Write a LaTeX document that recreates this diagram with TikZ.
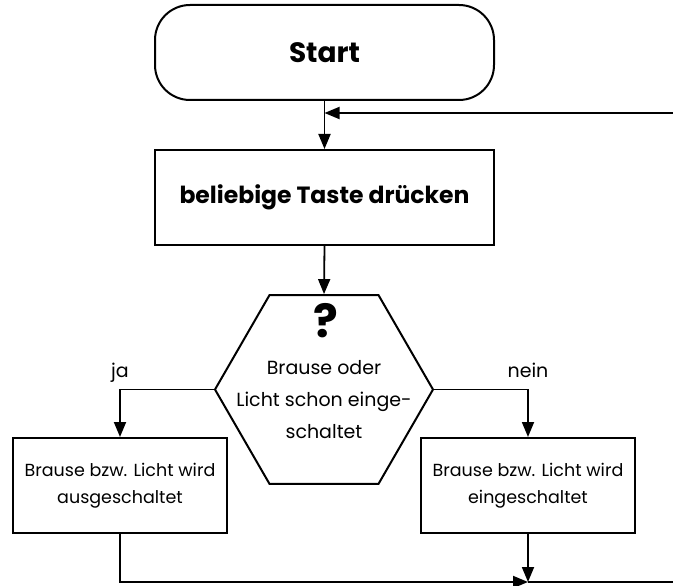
\documentclass[tikz,border=0pt]{standalone}
\usepackage{fontspec}
\setmainfont{Poppins}
\usetikzlibrary{arrows.meta,positioning,shapes.geometric}

\begin{document}
\begin{tikzpicture}[x=1pt,y=-1pt,>={Triangle[length=15pt,width=12pt]},line width=1.8pt,
 kasten/.style={draw,line width=2pt,inner sep=0pt,minimum width=339pt,minimum height=95pt},
 klein/.style={draw,line width=2pt,inner sep=0pt,align=center,minimum width=214pt,minimum height=95pt,
   font=\fontsize{17.5}{27}\selectfont},
 sechseck/.style={draw,line width=2pt,regular polygon,regular polygon sides=6,minimum size=218pt,inner sep=0pt},
 zweig/.style={above=5pt,font=\fontsize{19}{21}\selectfont,text height=.75em,text depth=.25em}]
 \useasboundingbox (0,0) rectangle (673,586);
 % oben
 \node[kasten,rounded corners=35pt,font=\fontsize{28}{32}\bfseries] (start) at (324.5,52.5) {Start};
 \node[kasten,font=\fontsize{23.5}{27}\bfseries] (taste) at (324.5,197.5) {beliebige Taste drücken};
 \coordinate (rueck) at (673,113);
 \draw[->] (start.south) -- (taste.north);
 \draw[->] (rueck) -- (rueck -| start.south);
 % Abfrage
 \node[sechseck] (frage) at (324,389.5) {};
 \node[font=\fontsize{46}{46}\bfseries] (fragezeichen) at (326,321) {?};
 \node[align=center,font=\fontsize{19}{32}\selectfont] (fragetext) at (324,400) {Brause oder\\Licht schon einge-\\schaltet};
 \draw[->] (taste.south) -- (frage.north);
 % Zweige
 \node[klein] (aus) at (120,485.5) {Brause bzw. Licht wird\\ausgeschaltet};
 \node[klein] (ein) at (528,485.5) {Brause bzw. Licht wird\\eingeschaltet};
 \draw[->] (frage.west) -| node[pos=.5,zweig] (ja) {ja} (aus.north);
 \draw[->] (frage.east) -| node[pos=.5,zweig] (nein) {nein} (ein.north);
 % unten
 \coordinate (treff) at (528,582);
 \coordinate (ende) at (673,582);
 \draw[->] (aus.south) |- (treff);
 \draw (treff) -- (ende);
 \draw[->] (ein.south) -- (treff);
\end{tikzpicture}
\end{document}
